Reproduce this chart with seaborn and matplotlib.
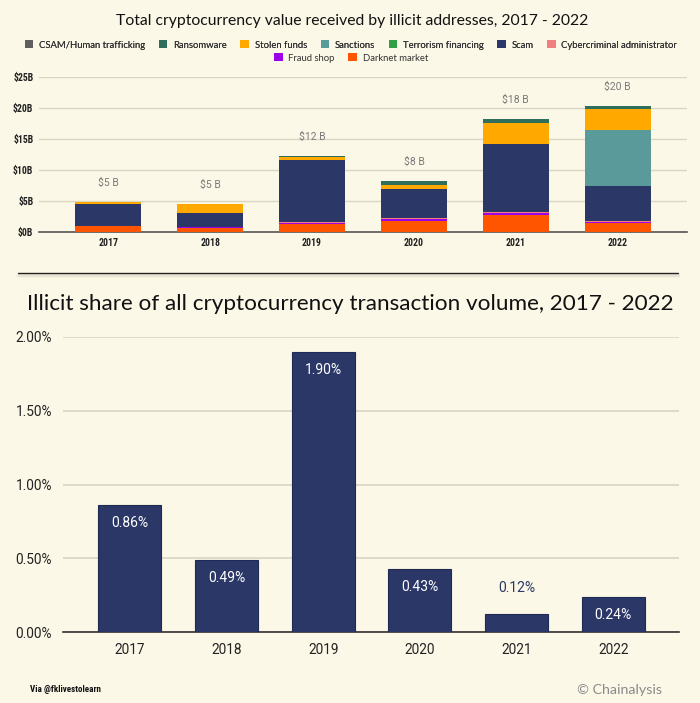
import matplotlib
matplotlib.use("Agg")
import matplotlib.pyplot as plt
import seaborn as sns
import pandas as pd
from matplotlib.lines import Line2D
from matplotlib.patches import Patch

# ---------------- data ----------------
years = ["2017", "2018", "2019", "2020", "2021", "2022"]
darknet_market = [0.9, 0.7, 1.3, 1.8, 2.75, 1.45]
fraud_shop = [0.03, 0.05, 0.2, 0.3, 0.27, 0.15]
cybercriminal_admin = [0.1, 0.02, 0.05, 0.2, 0.27, 0.12]
scam = [3.45, 2.25, 10.05, 4.7, 10.9, 5.75]
terrorism_financing = [0.01, 0.01, 0.01, 0.01, 0.02, 0.02]
sanctions = [0.0, 0.0, 0.0, 0.0, 0.0, 8.9]
stolen_funds = [0.27, 1.5, 0.5, 0.5, 3.3, 3.5]
ransomware = [0.05, 0.04, 0.15, 0.75, 0.7, 0.4]
csam = [0.01, 0.02, 0.03, 0.04, 0.06, 0.07]
total_labels = ["$5 B", "$5 B", "$12 B", "$8 B", "$18 B", "$20 B"]
top_ticks = [0, 5, 10, 15, 20, 25]
top_tick_labels = ["$0B", "$5B", "$10B", "$15B", "$20B", "$25B"]

illicit_share = [0.86, 0.49, 1.90, 0.43, 0.12, 0.24]
share_labels = ["0.86%", "0.49%", "1.90%", "0.43%", "0.12%", "0.24%"]
bottom_ticks = [0.0, 0.5, 1.0, 1.5, 2.0]
bottom_tick_labels = ["0.00%", "0.50%", "1.00%", "1.50%", "2.00%"]

# stacking order bottom -> top
stack = [
    ("Darknet market", darknet_market, "#ff5500"),
    ("Fraud shop", fraud_shop, "#9b00e8"),
    ("Cybercriminal administrator", cybercriminal_admin, "#f08080"),
    ("Scam", scam, "#2a3767"),
    ("Terrorism financing", terrorism_financing, "#2ea043"),
    ("Sanctions", sanctions, "#5a9a9a"),
    ("Stolen funds", stolen_funds, "#ffa800"),
    ("Ransomware", ransomware, "#2e6e5a"),
    ("CSAM/Human trafficking", csam, "#5f5f5f"),
]
legend_order_row1 = ["CSAM/Human trafficking", "Ransomware", "Stolen funds", "Sanctions",
                     "Terrorism financing", "Scam", "Cybercriminal administrator"]
legend_order_row2 = ["Fraud shop", "Darknet market"]

BG = "#fcf8e7"
GRID = "#d9d5c3"
NAVY = "#2a3767"

sns.set_theme(style="white")
plt.rcParams["font.family"] = ["Lato", "DejaVu Sans"]

W, H = 700, 703
fig = plt.figure(figsize=(7.0, 7.03), dpi=100, facecolor=BG)

def px_axes(l, t, r, b):
    return fig.add_axes([l / W, 1 - b / H, (r - l) / W, (b - t) / H])

# ---------------- top chart ----------------
ax1 = px_axes(39, 77, 687, 232)
ax1.set_facecolor(BG)
df_top = pd.DataFrame({"year": years})
bottom = [0.0] * len(years)
colors = {}
for name, vals, col in stack:
    colors[name] = col
    df_top["v"] = vals
    sns.barplot(data=df_top, x="year", y="v", ax=ax1, color=col, bottom=bottom,
                width=0.65, saturation=1, edgecolor="none", linewidth=0, zorder=3)
    bottom = [b + v for b, v in zip(bottom, vals)]
for i, (tot, lab) in enumerate(zip(bottom, total_labels)):
    ax1.annotate(lab, (i, tot), xytext=(0, 10), textcoords="offset points",
                 ha="center", va="bottom", fontsize=7.5, color="#7a7a7a",
                 family=["Roboto", "DejaVu Sans"])
ax1.set_xlim(-0.68, 5.68)
ax1.set_ylim(0, 25)
ax1.set_yticks(top_ticks)
ax1.set_yticklabels(top_tick_labels)
ax1.grid(axis="y", color=GRID, linewidth=1, zorder=0)
ax1.set_axisbelow(True)
for s in ["top", "right", "left"]:
    ax1.spines[s].set_visible(False)
ax1.spines["bottom"].set_color("#555555")
ax1.spines["bottom"].set_linewidth(1.2)
ax1.tick_params(axis="both", length=0, labelsize=7, colors="#222222", pad=4)
for t in ax1.get_xticklabels() + ax1.get_yticklabels():
    t.set_fontweight("bold")
    t.set_family(["Roboto Condensed", "Roboto", "DejaVu Sans"])
ax1.set_xlabel("")
ax1.set_ylabel("")

fig.text(352 / W, 1 - 21 / H, "Total cryptocurrency value received by illicit addresses, 2017 - 2022",
         ha="center", va="center", fontsize=11.3, color="#111111")

h1 = [Patch(facecolor=colors[n], edgecolor="none") for n in legend_order_row1]
h2 = [Patch(facecolor=colors[n], edgecolor="none") for n in legend_order_row2]
leg_kw = dict(frameon=False, fontsize=6.8, handlelength=0.9, handleheight=0.9,
              handletextpad=0.6, columnspacing=1.45, loc="center",
              labelcolor="#333333")
leg1 = fig.legend(h1, legend_order_row1, ncol=7, bbox_to_anchor=(351 / W, 1 - 45 / H), **leg_kw)
fig.add_artist(leg1)
leg2 = fig.legend(h2, legend_order_row2, ncol=2, bbox_to_anchor=(351 / W, 1 - 58 / H), **leg_kw)

# separator line
fig.add_artist(Line2D([18 / W, 678 / W], [1 - 274.5 / H, 1 - 274.5 / H], color="#e8e4d4",
                      linewidth=2.5, transform=fig.transFigure))
fig.add_artist(Line2D([18 / W, 678 / W], [1 - 273 / H, 1 - 273 / H], color="#222222",
                      linewidth=1.0, transform=fig.transFigure))

# ---------------- bottom chart ----------------
fig.text(350 / W, 1 - 304 / H, "Illicit share of all cryptocurrency transaction volume, 2017 - 2022",
         ha="center", va="center", fontsize=16.2, color="#111111")

ax2 = px_axes(63, 337, 679, 632)
ax2.set_facecolor(BG)
df_bot = pd.DataFrame({"year": years, "share": illicit_share})
sns.barplot(data=df_bot, x="year", y="share", ax=ax2, color=NAVY, width=0.65,
            saturation=1, edgecolor="#1f2a55", linewidth=0.8, zorder=3)
for i, (v, lab) in enumerate(zip(illicit_share, share_labels)):
    if v > 0.2:
        ax2.annotate(lab, (i, v), xytext=(0, -8), textcoords="offset points",
                     ha="center", va="top", fontsize=10, color="white",
                     family=["Roboto", "DejaVu Sans"])
    else:
        ax2.annotate(lab, (i, v), xytext=(0, 14), textcoords="offset points",
                     ha="center", va="bottom", fontsize=10, color=NAVY,
                     family=["Roboto", "DejaVu Sans"])
ax2.set_xlim(-0.69, 5.68)
ax2.set_ylim(0, 2.0)
ax2.set_yticks(bottom_ticks)
ax2.set_yticklabels(bottom_tick_labels)
ax2.grid(axis="y", color=GRID, linewidth=1.2, zorder=0)
ax2.set_axisbelow(True)
for s in ["top", "right", "left"]:
    ax2.spines[s].set_visible(False)
ax2.spines["bottom"].set_color("#333333")
ax2.spines["bottom"].set_linewidth(1.2)
ax2.tick_params(axis="both", length=0, labelsize=9.8, colors="#222222", pad=8)
for t in ax2.get_xticklabels() + ax2.get_yticklabels():
    t.set_family(["Roboto", "DejaVu Sans"])
ax2.set_xlabel("")
ax2.set_ylabel("")

# footer
fig.text(30 / W, 1 - 690 / H, "Via @fklivestolearn", ha="left", va="center",
         fontsize=6.5, fontweight="bold", color="#111111",
         family=["Roboto Condensed", "Roboto", "DejaVu Sans"])
fig.text(662 / W, 1 - 690 / H, "\u00a9 Chainalysis", ha="right", va="center",
         fontsize=10.3, color="#8a8a8a")

fig.savefig("out.png", dpi=100, facecolor=BG)
